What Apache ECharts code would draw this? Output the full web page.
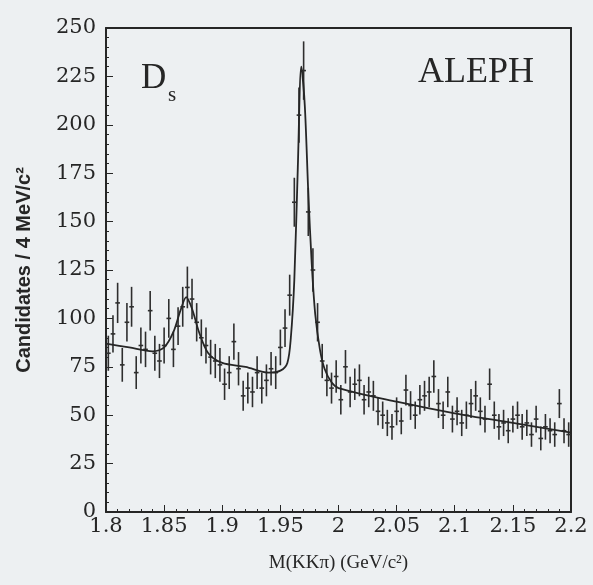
<!DOCTYPE html>
<html>
<head>
<meta charset="utf-8">
<script src="https://cdn.jsdelivr.net/npm/echarts@6/dist/echarts.min.js"></script>
<style>
  html, body { margin: 0; padding: 0; background: #edf0f2; }
  #chart { width: 593px; height: 585px; }
</style>
</head>
<body>
<div id="chart"></div>
<script>
// bin centres (4 MeV bins from 1.8 to 2.2 GeV)
var binStart = 1.8;
var binWidth = 0.004;

// candidates per bin
var counts = [
  82, 92, 108, 76, 98, 106, 72, 86, 84, 104,
  82, 78, 86, 100, 84, 96, 106, 116, 110, 98,
  90, 86, 80, 78, 76, 66, 72, 88, 74, 60,
  64, 62, 72, 64, 68, 74, 72, 85, 95, 112,
  160, 205, 228, 155, 125, 98, 78, 68, 64, 70,
  58, 75, 62, 66, 68, 58, 62, 60, 52, 50,
  46, 44, 52, 47, 63, 55, 50, 58, 60, 62,
  70, 56, 50, 62, 48, 52, 46, 50, 56, 60,
  52, 48, 66, 50, 44, 46, 42, 48, 50, 44,
  46, 40, 48, 38, 44, 42, 40, 56, 42, 40
];

// fit curve
var fitX = [1.800, 1.820, 1.840, 1.850, 1.858, 1.864, 1.869, 1.874, 1.880, 1.888,
            1.900, 1.920, 1.940, 1.950, 1.956, 1.959, 1.962, 1.965, 1.968, 1.971,
            1.974, 1.977, 1.980, 1.984, 1.988, 1.994, 2.000, 2.050, 2.100, 2.150,
            2.200];
var fitY = [87, 85, 83, 85, 93, 104, 111, 105, 93, 82,
            77, 75, 72, 73, 77, 90, 120, 178, 230, 210,
            165, 128, 102, 84, 74, 67, 64, 57, 51, 46,
            41];

var yTicks = [0, 25, 50, 75, 100, 125, 150, 175, 200, 225, 250];

var points = counts.map(function (n, i) {
  // Poisson errors
  return [binStart + (i + 0.5) * binWidth, n, Math.sqrt(n)];
});
var fit = fitX.map(function (x, i) { return [x, fitY[i]]; });

var ink = "#262626";
var serif = "Liberation Serif, serif";
var tickFont = "DejaVu Serif, serif";

var chart = echarts.init(document.getElementById("chart"));
chart.setOption({
  backgroundColor: "#edf0f2",
  animation: false,
  textStyle: { fontFamily: serif },
  grid: { left: 106, right: 22, top: 28, bottom: 73 },
  xAxis: [{
    type: "value",
    min: 1.8,
    max: 2.2,
    interval: 0.05,
    name: "M(KKπ) (GeV/c²)",
    nameLocation: "middle",
    nameGap: 42,
    nameTextStyle: { fontSize: 19, color: ink, fontFamily: serif },
    axisLine: { onZero: false, lineStyle: { color: ink, width: 2 } },
    axisTick: { inside: true, length: 7, lineStyle: { color: ink } },
    minorTick: { show: true, splitNumber: 5, length: 3, lineStyle: { color: ink } },
    splitLine: { show: false },
    axisLabel: {
      fontSize: 21, color: ink, margin: 4, fontFamily: tickFont,
      formatter: function (v) { return String(parseFloat(v.toFixed(2))); }
    }
  }, {
    type: "value", min: 1.8, max: 2.2, position: "top",
    axisLine: { show: true, onZero: false, lineStyle: { color: ink, width: 2 } },
    axisTick: { show: false }, axisLabel: { show: false }, splitLine: { show: false }
  }],
  yAxis: [{
    type: "value",
    min: 0,
    max: 250,
    interval: 25,
    name: "Candidates / 4 MeV/c²",
    nameLocation: "middle",
    nameGap: 72,
    nameTextStyle: { fontSize: 20, fontWeight: "bold", color: ink, fontFamily: "Liberation Sans, sans-serif" },
    axisLine: { show: true, onZero: false, lineStyle: { color: ink, width: 2 } },
    axisTick: { inside: true, length: 7, lineStyle: { color: ink } },
    minorTick: { show: true, splitNumber: 5, length: 3, lineStyle: { color: ink } },
    splitLine: { show: false },
    axisLabel: {
      fontSize: 21, color: ink, margin: 10, fontFamily: tickFont,
      formatter: function (v) { return yTicks.indexOf(v) >= 0 ? String(v) : ""; }
    }
  }, {
    type: "value", min: 0, max: 250, position: "right",
    axisLine: { show: true, onZero: false, lineStyle: { color: ink, width: 2 } },
    axisTick: { show: false }, axisLabel: { show: false }, splitLine: { show: false }
  }],
  graphic: [
    { type: "text", left: 141, top: 61,
      style: { text: "D", font: "35px " + serif, fill: ink } },
    { type: "text", left: 168, top: 85,
      style: { text: "s", font: "21px " + serif, fill: ink } },
    { type: "text", left: 418, top: 55,
      style: { text: "ALEPH", font: "36px " + serif, fill: ink } }
  ],
  series: [
    {
      type: "custom",
      data: points,
      renderItem: function (params, api) {
        var x = api.value(0), y = api.value(1), e = api.value(2);
        var c = api.coord([x, y]);
        var lo = api.coord([x - binWidth / 2, y - e]);
        var hi = api.coord([x + binWidth / 2, y + e]);
        var st = { stroke: "#2e2e2e", lineWidth: 1.6 };
        return {
          type: "group",
          children: [
            { type: "line", shape: { x1: c[0], y1: lo[1], x2: c[0], y2: hi[1] }, style: st },
            { type: "line", shape: { x1: lo[0], y1: c[1], x2: hi[0], y2: c[1] }, style: st }
          ]
        };
      }
    },
    {
      type: "line",
      data: fit,
      smooth: 0.3,
      symbol: "none",
      lineStyle: { color: ink, width: 1.8 }
    }
  ]
});
</script>
</body>
</html>
